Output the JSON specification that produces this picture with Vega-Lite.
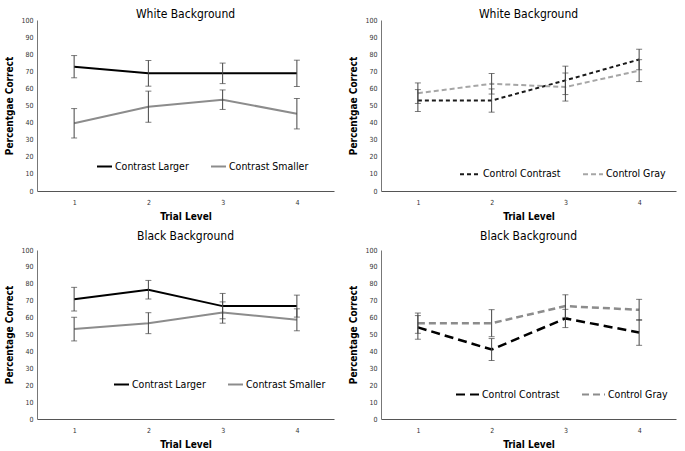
{
  "$schema": "https://vega.github.io/schema/vega-lite/v6.json",
  "background": "white",
  "padding": {"left": 4, "top": 8, "right": 8, "bottom": 1},
  "config": {
    "font": "DejaVu Sans Condensed, Roboto, sans-serif",
    "view": {"stroke": null},
    "title": {"fontSize": 12, "fontWeight": "normal", "color": "#000", "offset": 3},
    "axisY": {"domainColor": "#777", "ticks": false, "grid": false, "labelFontSize": 7, "labelPadding": 4, "titleFontSize": 10, "titleFontWeight": "bold", "titlePadding": 6, "tickCount": 10, "labelColor": "#333", "titleColor": "#000"},
    "axisX": {"domainColor": "#555", "ticks": false, "grid": false, "labelFontSize": 7, "labelPadding": 7, "titleFontSize": 10, "titleFontWeight": "bold", "titlePadding": 6, "labelAngle": 0, "labelColor": "#333", "titleColor": "#000"},
    "legend": {"labelFontSize": 10.5, "labelColor": "#000", "symbolType": "stroke", "symbolStrokeWidth": 2, "columnPadding": 18, "labelOffset": 2}
  },
  "resolve": {"scale": {"color": "independent", "strokeDash": "independent"}, "legend": {"color": "independent", "strokeDash": "independent"}},
  "data": {"values": [
    {"panel": 1, "series": "Contrast Larger", "trial": "1", "mean": 72.7, "err": 6.5},
    {"panel": 1, "series": "Contrast Larger", "trial": "2", "mean": 68.8, "err": 7.5},
    {"panel": 1, "series": "Contrast Larger", "trial": "3", "mean": 68.8, "err": 6.0},
    {"panel": 1, "series": "Contrast Larger", "trial": "4", "mean": 68.8, "err": 7.7},
    {"panel": 1, "series": "Contrast Smaller", "trial": "1", "mean": 39.6, "err": 8.6},
    {"panel": 1, "series": "Contrast Smaller", "trial": "2", "mean": 49.3, "err": 9.1},
    {"panel": 1, "series": "Contrast Smaller", "trial": "3", "mean": 53.4, "err": 5.7},
    {"panel": 1, "series": "Contrast Smaller", "trial": "4", "mean": 45.2, "err": 8.9},
    {"panel": 2, "series": "Control Contrast", "trial": "1", "mean": 52.9, "err": 6.4},
    {"panel": 2, "series": "Control Contrast", "trial": "2", "mean": 52.9, "err": 6.8},
    {"panel": 2, "series": "Control Contrast", "trial": "3", "mean": 64.7, "err": 8.3},
    {"panel": 2, "series": "Control Contrast", "trial": "4", "mean": 76.9, "err": 6.0},
    {"panel": 2, "series": "Control Gray", "trial": "1", "mean": 57.2, "err": 6.0},
    {"panel": 2, "series": "Control Gray", "trial": "2", "mean": 62.7, "err": 6.0},
    {"panel": 2, "series": "Control Gray", "trial": "3", "mean": 60.8, "err": 8.2},
    {"panel": 2, "series": "Control Gray", "trial": "4", "mean": 70.4, "err": 6.4},
    {"panel": 3, "series": "Contrast Larger", "trial": "1", "mean": 70.9, "err": 7.0},
    {"panel": 3, "series": "Contrast Larger", "trial": "2", "mean": 76.5, "err": 5.5},
    {"panel": 3, "series": "Contrast Larger", "trial": "3", "mean": 66.8, "err": 7.5},
    {"panel": 3, "series": "Contrast Larger", "trial": "4", "mean": 66.8, "err": 6.5},
    {"panel": 3, "series": "Contrast Smaller", "trial": "1", "mean": 53.2, "err": 7.0},
    {"panel": 3, "series": "Contrast Smaller", "trial": "2", "mean": 56.7, "err": 6.2},
    {"panel": 3, "series": "Contrast Smaller", "trial": "3", "mean": 63.0, "err": 6.3},
    {"panel": 3, "series": "Contrast Smaller", "trial": "4", "mean": 58.7, "err": 6.5},
    {"panel": 4, "series": "Control Contrast", "trial": "1", "mean": 54.2, "err": 7.0},
    {"panel": 4, "series": "Control Contrast", "trial": "2", "mean": 41.1, "err": 6.5},
    {"panel": 4, "series": "Control Contrast", "trial": "3", "mean": 59.5, "err": 5.4},
    {"panel": 4, "series": "Control Contrast", "trial": "4", "mean": 51.2, "err": 7.6},
    {"panel": 4, "series": "Control Gray", "trial": "1", "mean": 56.7, "err": 6.0},
    {"panel": 4, "series": "Control Gray", "trial": "2", "mean": 56.7, "err": 8.0},
    {"panel": 4, "series": "Control Gray", "trial": "3", "mean": 66.8, "err": 6.7},
    {"panel": 4, "series": "Control Gray", "trial": "4", "mean": 64.6, "err": 6.2}
  ]},
  "columns": 2,
  "spacing": {"column": 14, "row": 9},
  "concat": [
    {
      "title": {"text": "White Background", "dy": 8},
      "width": 297, "height": 171,
      "transform": [{"filter": "datum.panel == 1"}],
      "encoding": {
        "x": {"field": "trial", "type": "ordinal", "title": "Trial Level", "scale": {"type": "point", "padding": 0.5}},
        "y": {"field": "mean", "type": "quantitative", "title": "Percentgae Correct", "scale": {"domain": [0, 100]}}
      },
      "layer": [
        {"mark": {"type": "line", "strokeWidth": 2},
         "encoding": {"color": {"field": "series", "type": "nominal", "scale": {"domain": ["Contrast Larger", "Contrast Smaller"], "range": ["#000000", "#8c8c8c"]},
           "legend": {"title": null, "orient": "none", "direction": "horizontal", "legendX": 59, "legendY": 138, "symbolSize": 225}}}},
        {"mark": {"type": "errorbar", "color": "#444", "thickness": 1, "ticks": {"size": 6, "color": "#444", "thickness": 1}},
         "encoding": {"yError": {"field": "err"}, "detail": {"field": "series"}}}
      ]
    },
    {
      "title": {"text": "White Background", "dy": 8},
      "width": 295, "height": 171,
      "transform": [{"filter": "datum.panel == 2"}],
      "encoding": {
        "x": {"field": "trial", "type": "ordinal", "title": "Trial Level", "scale": {"type": "point", "padding": 0.5}},
        "y": {"field": "mean", "type": "quantitative", "title": "Percentgae Correct", "scale": {"domain": [0, 100]}}
      },
      "layer": [
        {"mark": {"type": "line", "strokeWidth": 2},
         "encoding": {
           "color": {"field": "series", "type": "nominal", "scale": {"domain": ["Control Contrast", "Control Gray"], "range": ["#1a1a1a", "#a6a6a6"]},
             "legend": {"title": null, "orient": "none", "direction": "horizontal", "legendX": 78, "legendY": 143, "symbolSize": 400}},
           "strokeDash": {"field": "series", "type": "nominal", "scale": {"domain": ["Control Contrast", "Control Gray"], "range": [[4, 3], [5, 3]]},
             "legend": {"title": null, "orient": "none", "direction": "horizontal", "legendX": 78, "legendY": 143, "symbolSize": 400}}}},
        {"mark": {"type": "errorbar", "color": "#444", "thickness": 1, "ticks": {"size": 6, "color": "#444", "thickness": 1}},
         "encoding": {"yError": {"field": "err"}, "detail": {"field": "series"}}}
      ]
    },
    {
      "title": "Black Background",
      "width": 297, "height": 169,
      "transform": [{"filter": "datum.panel == 3"}],
      "encoding": {
        "x": {"field": "trial", "type": "ordinal", "title": "Trial Level", "scale": {"type": "point", "padding": 0.5}},
        "y": {"field": "mean", "type": "quantitative", "title": "Percentage Correct", "scale": {"domain": [0, 100]}}
      },
      "layer": [
        {"mark": {"type": "line", "strokeWidth": 2},
         "encoding": {"color": {"field": "series", "type": "nominal", "scale": {"domain": ["Contrast Larger", "Contrast Smaller"], "range": ["#000000", "#8c8c8c"]},
           "legend": {"title": null, "orient": "none", "direction": "horizontal", "legendX": 76, "legendY": 126, "symbolSize": 225}}}},
        {"mark": {"type": "errorbar", "color": "#444", "thickness": 1, "ticks": {"size": 6, "color": "#444", "thickness": 1}},
         "encoding": {"yError": {"field": "err"}, "detail": {"field": "series"}}}
      ]
    },
    {
      "title": "Black Background",
      "width": 295, "height": 169,
      "transform": [{"filter": "datum.panel == 4"}],
      "encoding": {
        "x": {"field": "trial", "type": "ordinal", "title": "Trial Level", "scale": {"type": "point", "padding": 0.5}},
        "y": {"field": "mean", "type": "quantitative", "title": "Percentage Correct", "scale": {"domain": [0, 100]}}
      },
      "layer": [
        {"mark": {"type": "line", "strokeWidth": 2.5},
         "encoding": {
           "color": {"field": "series", "type": "nominal", "scale": {"domain": ["Control Contrast", "Control Gray"], "range": ["#000000", "#8c8c8c"]},
             "legend": {"title": null, "orient": "none", "direction": "horizontal", "legendX": 74, "legendY": 132, "symbolSize": 529}},
           "strokeDash": {"field": "series", "type": "nominal", "scale": {"domain": ["Control Contrast", "Control Gray"], "range": [[9, 5], [7, 4]]},
             "legend": {"title": null, "orient": "none", "direction": "horizontal", "legendX": 74, "legendY": 132, "symbolSize": 529}}}},
        {"mark": {"type": "errorbar", "color": "#444", "thickness": 1, "ticks": {"size": 6, "color": "#444", "thickness": 1}},
         "encoding": {"yError": {"field": "err"}, "detail": {"field": "series"}}}
      ]
    }
  ]
}
